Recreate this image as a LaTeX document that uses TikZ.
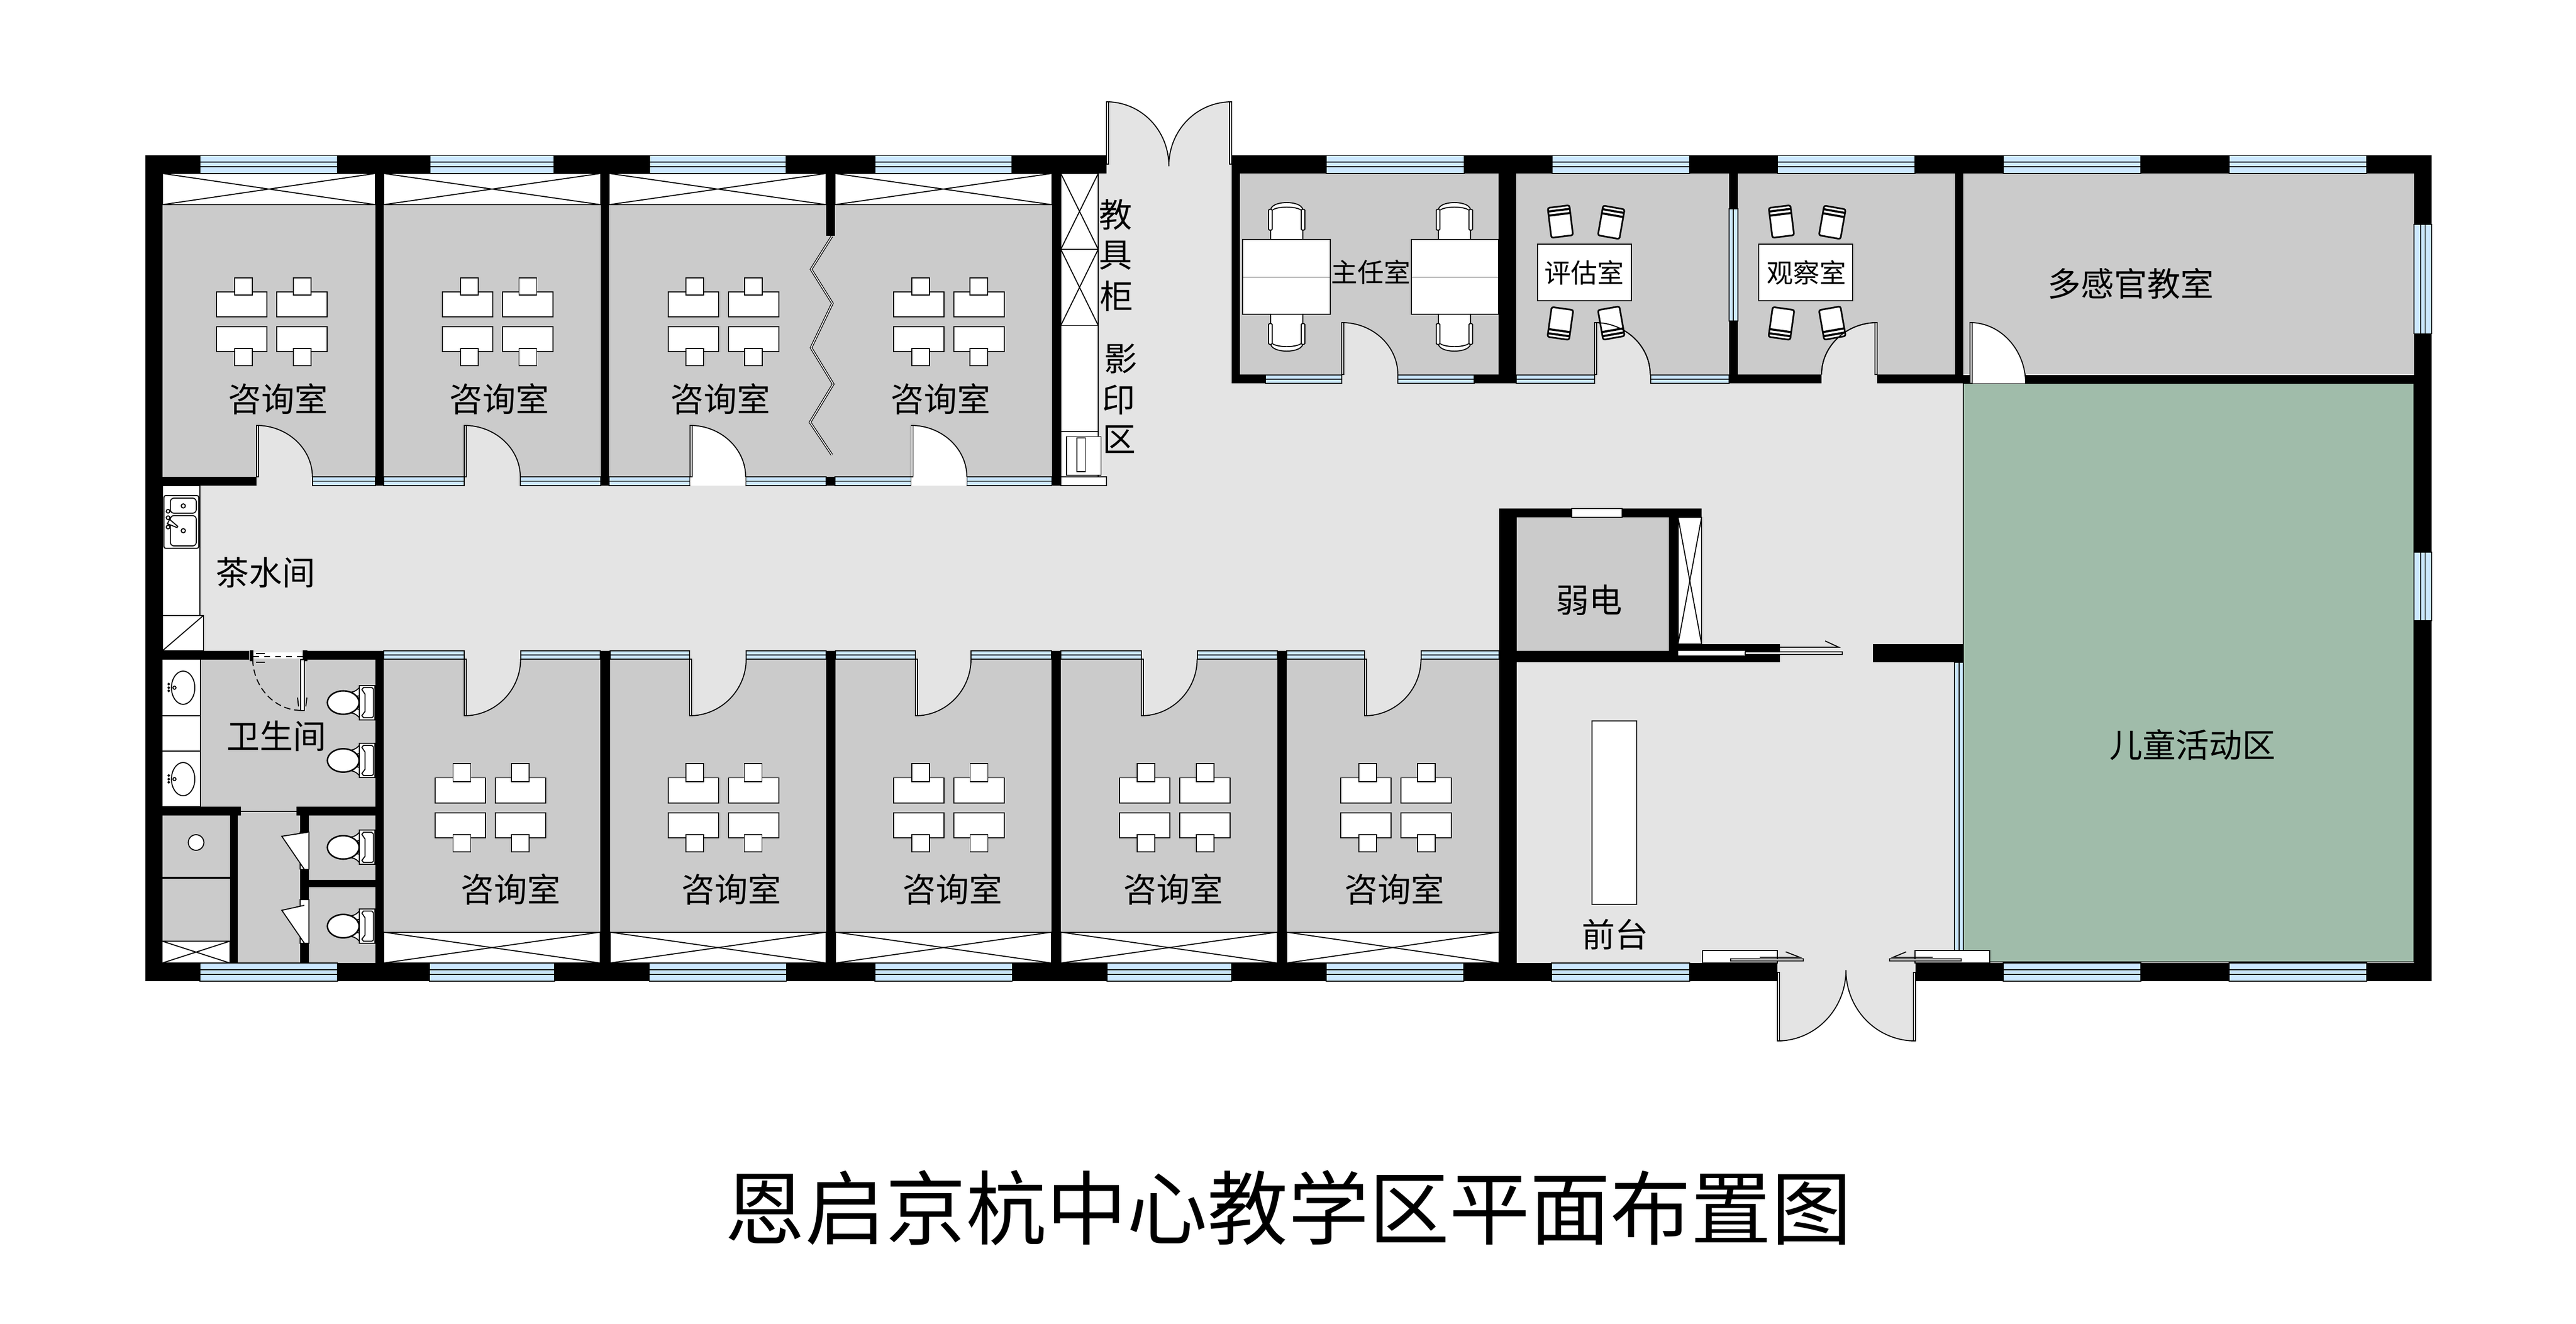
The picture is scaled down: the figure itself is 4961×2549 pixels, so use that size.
\documentclass[tikz,border=0pt]{standalone}
\usepackage{fontspec}
\setmainfont{Noto Sans CJK SC}
\definecolor{roomgray}{RGB}{203,203,203}
\definecolor{hallgray}{RGB}{228,228,228}
\definecolor{playgreen}{RGB}{160,188,170}
\definecolor{glassblue}{RGB}{204,232,255}
\tikzset{
  thinline/.style={draw=black,line width=0.55pt},
  wall/.style={fill=black},
  room/.style={fill=roomgray},
  glass/.style={fill=glassblue,thinline},
  whitebox/.style={fill=white,thinline},
  roomlabel/.style={font=\fontsize{18.2}{20}\selectfont,inner sep=0pt},
  smalllabel/.style={font=\fontsize{14.5}{17}\selectfont,inner sep=0pt},
  titlelabel/.style={font=\fontsize{44.1}{50}\selectfont,inner sep=0pt},
  armchair/.pic={
    \path[whitebox] (-31,0) -- (-31,-58) .. controls (-28,-68) and (-12,-71) .. (0,-71) .. controls (12,-71) and (28,-68) .. (31,-58) -- (31,0) -- cycle;
    \path[thinline] (-27,-57) .. controls (-16,-64) and (16,-64) .. (27,-57);
    \path[whitebox,rounded corners=0.5pt] (-35,-58) rectangle (-28,-18);
    \path[whitebox,rounded corners=0.5pt] (28,-58) rectangle (35,-18);
  },
  sidechair/.pic={
    \path[whitebox,line width=0.9pt,rounded corners=1pt] (-21,-29) -- (21,-29) -- (21,29) -- (-21,29) -- cycle;
    \path[wall] (-21,-24) rectangle (21,-20);
    \path[wall] (-21,-16) rectangle (21,-12);
  },
  toilet/.pic={
    \path[whitebox] (-46,-20) .. controls (-37,-21) and (-33,-26) .. (-30,-29) -- (-30,29) .. controls (-33,26) and (-37,21) .. (-46,20) -- cycle;
    \path[whitebox] (-30,-33) rectangle (0,33);
    \path[thinline] (-22,-29) -- (-6,-29) -- (-3,-26) -- (-3,27) -- (-6,29) -- (-22,29) -- (-25,25) -- (-19,17) -- (-19,-16) -- (-25,-25) -- cycle;
    \path[whitebox,line width=0.8pt] (-61,0) ellipse (30.5 and 22.5);
    \path[whitebox] (-32,-11) circle (2);
    \path[whitebox] (-32,11) circle (2);
  }
}
\newcommand{\winband}[4]{
  \path[glass] (#1,#3) rectangle (#2,#4);
  \path[thinline] (#1,{#3+0.37*(#4-#3)}) -- (#2,{#3+0.37*(#4-#3)});
  \path[thinline] (#1,{#3+0.63*(#4-#3)}) -- (#2,{#3+0.63*(#4-#3)});
}
\newcommand{\winstrip}[4]{
  \path[glass] (#1,#3) rectangle (#2,#4);
  \path[thinline] (#1,{(#3+#4)/2}) -- (#2,{(#3+#4)/2});
}
\newcommand{\winside}[4]{
  \path[glass] (#1,#3) rectangle (#2,#4);
  \path[thinline] ({#1+0.37*(#2-#1)},#3) -- ({#1+0.37*(#2-#1)},#4);
  \path[thinline] ({#1+0.63*(#2-#1)},#3) -- ({#1+0.63*(#2-#1)},#4);
}
\newcommand{\winpost}[4]{
  \path[glass] (#1,#3) rectangle (#2,#4);
  \path[thinline] ({(#1+#2)/2},#3) -- ({(#1+#2)/2},#4);
}
\newcommand{\closet}[4]{
  \path[whitebox] (#1,#3) rectangle (#2,#4);
  \path[thinline] (#1,#3) -- (#2,#4);
  \path[thinline] (#1,#4) -- (#2,#3);
}
\newcommand{\swing}[5]{
  \path[fill=#1] (#2,#3) .. controls ({#2+0.55*(#4-#2)},#3) and (#4,{#5-0.55*(#5-#3)}) .. (#4,#5) -- (#2,#5) -- cycle;
  \path[thinline] (#2,#3) .. controls ({#2+0.55*(#4-#2)},#3) and (#4,{#5-0.55*(#5-#3)}) .. (#4,#5);
  \path[whitebox] (#2,#3) rectangle ({#2+4*sign(#4-#2)},#5);
}
\begin{document}
\begin{tikzpicture}[x=0.01cm,y=-0.01cm]
\useasboundingbox (0,0) rectangle (4961,2549);

\path[fill=hallgray] (313,738) rectangle (3781,1854);
\path[fill=hallgray] (2115,300) rectangle (2372,738);
\path[fill=hallgray] (2372,700) rectangle (3781,738);

\path[room] (313,394) rectangle (723,918);
\path[room] (739,394) rectangle (1156.6,918);
\path[room] (1173.4,394) rectangle (2025.5,918);
\path[room] (2388,334) rectangle (2886.4,721);
\path[room] (2920,334) rectangle (3330,721);
\path[room] (3346.6,334) rectangle (3764.6,721);
\path[room] (3781,334) rectangle (4649,721);
\path[fill=playgreen,thinline] (3781,738) rectangle (4649,1852);
\foreach \xa/\xb in {739/1156,1174.6/1591,1609/2025,2043/2460,2477.7/2886.5}{
  \path[room] (\xa,1269) rectangle (\xb,1794.6);
}
\path[room] (386,1269) rectangle (722.6,1553);
\path[room] (458,1553) rectangle (578,1854);
\path[room] (312.5,1570) rectangle (442.6,1812);
\path[room] (595,1570) rectangle (722.6,1854);
\path[room] (2921,996) rectangle (3214,1253);

\path[wall] (279.5,299.5) rectangle (2131,334);
\path[wall] (2372,299.5) rectangle (4683,334);
\path[wall] (279.5,299.5) rectangle (313,1889);
\path[wall] (4649,299.5) rectangle (4683,1889);
\path[wall] (279.5,1854) rectangle (3423,1889);
\path[wall] (3688.5,1854) rectangle (4683,1889);
\path[wall] (723,334) rectangle (739,935);
\path[wall] (1156.6,334) rectangle (1173.4,935);
\path[wall] (1591,334) rectangle (1608,454);
\path[wall] (1591,918) rectangle (1608,935);
\path[wall] (2025.5,334) rectangle (2043,935);
\path[wall] (313,918) rectangle (494,935);
\path[wall] (2372,334) rectangle (2388,738);
\path[wall] (2372,721) rectangle (2437,738);
\path[wall] (2838.6,721) rectangle (2886.4,738);
\path[wall] (2886.4,334) rectangle (2920,738);
\path[wall] (3330,334) rectangle (3346.6,738);
\path[wall] (3346.6,721) rectangle (3508,738);
\path[wall] (3615.4,721) rectangle (3764.6,738);
\path[wall] (3764.6,334) rectangle (3781,738);
\path[wall] (3781,721.6) rectangle (3794,738);
\path[wall] (3901,721.6) rectangle (4649,738);
\path[wall] (313,1253) rectangle (480,1270);
\path[wall] (592,1253) rectangle (722.6,1270);
\path[wall] (722.6,1253) rectangle (739,1854);
\path[wall] (1156,1253) rectangle (1174.6,1854);
\path[wall] (1591,1253) rectangle (1609,1854);
\path[wall] (2025,1253) rectangle (2043,1854);
\path[wall] (2460,1253) rectangle (2477.7,1854);
\path[wall] (2886.5,979) rectangle (2921,1854);
\path[wall] (2921,979) rectangle (3277,996);
\path[wall] (3214,996) rectangle (3231.6,1253);
\path[wall] (2921,1253) rectangle (3428,1275);
\path[wall] (3231.6,1240) rectangle (3428,1253);
\path[wall] (3607,1240) rectangle (3781,1275);
\path[wall] (312.5,1553) rectangle (463.6,1570);
\path[wall] (571,1553) rectangle (722.6,1570);
\path[wall] (442.6,1570) rectangle (458,1854);
\path[wall] (578,1570) rectangle (595,1854);
\path[wall] (595,1693.6) rectangle (722.6,1708.4);
\path[thinline] (463.6,1562) -- (571,1562);

\foreach \xa/\xb in {385.5/650,828/1067,1250.8/1514,1685/1949,2553.5/2819.5,2989/3254,3423/3688,3858/4122.6,4293/4558}{
  \winband{\xa}{\xb}{299.5}{334}
}
\foreach \xa/\xb in {385/650,827/1067.6,1250.5/1514.5,1685/1949.5,2132/2372,2554/2819,2988/3254,3858/4122.6,4293/4558}{
  \winband{\xa}{\xb}{1854}{1889}
}
\foreach \xa/\xb in {601.6/723,739/894,1002/1156.6,1173.4/1329,1436/1591,1608/1754.5,1862/2025.5,2437/2584,2692/2838.6,2920/3071,3179/3330}{
  \pgfmathsetmacro{\ya}{\xa<2100 ? 918 : 722}
  \pgfmathsetmacro{\yb}{\xa<2100 ? 935 : 738}
  \winstrip{\xa}{\xb}{\ya}{\yb}
}
\foreach \xa/\xb in {739/894,1002.6/1156,1174.6/1328,1437/1591,1609/1763,1870/2025,2043/2197.7,2305.5/2460,2477.7/2628,2736.6/2886.5}{
  \winstrip{\xa}{\xb}{1253}{1269}
}
\winside{4649}{4683}{432}{642.5}
\winside{4649}{4683}{1063}{1195}
\winpost{3330}{3346.6}{401.6}{618.4}
\winpost{3764}{3781}{1275}{1831}

\closet{313}{723}{334}{394}
\closet{739}{1156.6}{334}{394}
\closet{1173.4}{1591}{334}{394}
\closet{1608}{2025.5}{334}{394}
\closet{2043}{2115}{334}{480}
\closet{2043}{2115}{480}{626.5}
\closet{739}{1156}{1794.6}{1854}
\closet{1174.6}{1591}{1794.6}{1854}
\closet{1609}{2025}{1794.6}{1854}
\closet{2043}{2460}{1794.6}{1854}
\closet{2477.7}{2886.5}{1794.6}{1854}
\closet{312.5}{442.6}{1812}{1854}
\closet{3231.6}{3277}{996}{1240}
\path[whitebox] (2043,626.5) rectangle (2115,918);
\path[whitebox] (2043,918) rectangle (2131,935);
\path[whitebox] (2043,831) rectangle (2115,918);
\path[whitebox] (2053.6,840.5) rectangle (2120.5,914.6);
\path[whitebox] (2074,843) rectangle (2090.5,908);
\path[whitebox] (313,935) rectangle (385,1185);
\path[whitebox] (313,1185) rectangle (391.7,1252.7);
\path[thinline] (313,1252.7) -- (391.7,1185);
\path[whitebox,rounded corners=1pt] (315.7,954) rectangle (382.7,1055.7);
\path[whitebox,rounded corners=2pt] (328,959) rectangle (378,988);
\path[whitebox,rounded corners=2pt] (328,992.7) rectangle (378,1051);
\path[thinline] (353,974) circle (4);
\path[thinline] (353,1021.7) circle (4);
\foreach \ty in {984.3,996.7,1014.7}{
  \path[whitebox] (323.7,\ty) circle (3.5);
}
\path[whitebox] (326.7,1000) -- (342.3,1013.3) -- (341,1015.7) -- (322.3,1008.3) -- cycle;
\path[whitebox] (312.5,1269) rectangle (386,1378);
\path[whitebox] (312.5,1378) rectangle (386,1446);
\path[whitebox] (312.5,1446) rectangle (386,1553);
\foreach \sy in {1324,1500}{
  \path[whitebox] (352.7,\sy) ellipse (22.5 and 32);
  \path[whitebox] (336,\sy) circle (3);
  \foreach \dy in {-7,0,6}{
    \path[whitebox] (325,\sy+\dy) circle (1.6);
  }
}
\path[thinline] (312.5,1689) rectangle (442.6,1691);
\path[thinline] (312.5,1812) -- (442.6,1812);
\path[whitebox] (377.6,1622) ellipse (15 and 15);
\path[whitebox] (578.4,1602) rectangle (595,1673.5);
\path[whitebox] (578.4,1732) rectangle (595,1815.6);
\path[whitebox] (586,1673.5) -- (542.7,1610) -- (594.4,1602);
\path[whitebox] (586,1815.6) -- (542.7,1752.5) -- (586,1743);
\path[whitebox] (3027,979) rectangle (3124,996);

\swing{hallgray}{494}{819}{601.6}{918}
\swing{hallgray}{894}{819}{1002}{918}
\path[fill=white] (1329,918) rectangle (1436,935);
\path[fill=white] (1754.5,918) rectangle (1862,935);
\swing{white}{1329}{819}{1436}{918}
\swing{white}{1754.5}{819}{1862}{918}
\swing{hallgray}{2584}{621}{2692}{721}
\swing{hallgray}{3071}{621}{3178}{721}
\swing{hallgray}{3615.4}{621}{3508}{721}
\swing{white}{3794}{621}{3901}{738}
\foreach \hx/\ex in {894/1002.6,1328/1437,1763/1870,2197.7/2305.5,2628/2736.6}{
  \swing{hallgray}{\hx}{1378}{\ex}{1269}
}

\path[fill=hallgray] (2131,196) .. controls (2197,196) and (2251,250) .. (2251,320) .. controls (2251,250) and (2305,196) .. (2372,196) -- (2372,300) -- (2131,300) -- cycle;
\path[thinline] (2131,196) .. controls (2197,196) and (2251,250) .. (2251,320) .. controls (2251,250) and (2305,196) .. (2372,196);
\path[whitebox] (2131,196) rectangle (2135,316);
\path[whitebox] (2368,196) rectangle (2372,316);
\path[fill=hallgray] (3423,2004) .. controls (3496,2004) and (3555,1943) .. (3555,1867.6) .. controls (3555,1943) and (3614,2004) .. (3688.5,2004) -- (3688.5,1854) -- (3423,1854) -- cycle;
\path[thinline] (3423,2004) .. controls (3496,2004) and (3555,1943) .. (3555,1867.6) .. controls (3555,1943) and (3614,2004) .. (3688.5,2004);
\path[whitebox] (3423,1872) rectangle (3427,2004);
\path[whitebox] (3684.7,1872) rectangle (3688.5,2004);

\path[whitebox] (3279,1830.4) rectangle (3423,1854);
\path[whitebox] (3688,1830.4) rectangle (3831.6,1854);
\path[whitebox] (3333.4,1846) rectangle (3472.7,1850);
\path[whitebox] (3638.7,1846) rectangle (3777,1850);
\path[thinline] (3389,1843) -- (3466,1843) -- (3439,1832.5);
\path[thinline] (3722,1843) -- (3645.6,1843) -- (3671,1832.5);
\path[fill=white] (3231.6,1253) rectangle (3361,1262);
\path[whitebox] (3361,1255) rectangle (3547.7,1260);
\path[thinline] (3427.5,1246) -- (3541,1246) -- (3515,1234);

\path[draw=black,double=white,double distance=0.5pt,line width=0.4pt] (1602,455) -- (1562,518.5) -- (1603,584) -- (1562,669.5) -- (1604.6,739.5) -- (1560,813) -- (1602,875.6);

\path[fill=white] (488,1256) rectangle (583,1267);
\path[thinline,dashed] (488,1264) -- (583,1264);
\path[wall] (481,1252) rectangle (488,1273);
\path[wall] (583,1252) rectangle (592,1273);
\path[wall] (493,1257) rectangle (510,1259);
\path[wall] (493,1274) rectangle (510,1276);
\path[whitebox] (579.3,1270) rectangle (585.7,1368);
\path[thinline] (573,1343) -- (575,1360);
\path[thinline] (591,1343) -- (589,1360);
\path[thinline,dash pattern=on 3.5pt off 2pt] (486.7,1270) .. controls (488,1320) and (525,1366) .. (578,1367.7);

\foreach \ax/\bx/\ca/\cb in {417.4/533/452/565,852/968/887/999.5,1287/1403/1321/1434,1721/1837/1756/1868}{
  \path[whitebox] (\ax,561.6) rectangle (\ax+97,610);
  \path[whitebox] (\bx,561.6) rectangle (\bx+97,610);
  \path[whitebox] (\ax,629) rectangle (\ax+97,677);
  \path[whitebox] (\bx,629) rectangle (\bx+97,677);
  \path[whitebox] (\ca,534.6) rectangle (\ca+34,568);
  \path[whitebox] (\cb,534.6) rectangle (\cb+34,568);
  \path[whitebox] (\ca,670.6) rectangle (\ca+34,704);
  \path[whitebox] (\cb,670.6) rectangle (\cb+34,704);
}
\foreach \ax/\bx/\ca/\cb in {838/954/872.5/985,1287/1403/1320.7/1433.5,1721/1837/1755.6/1868.5,2156/2271.7/2190/2303.6,2582/2698/2616.7/2729.6}{
  \path[whitebox] (\ax,1497.5) rectangle (\ax+97,1546);
  \path[whitebox] (\bx,1497.5) rectangle (\bx+97,1546);
  \path[whitebox] (\ax,1565) rectangle (\ax+97,1613);
  \path[whitebox] (\bx,1565) rectangle (\bx+97,1613);
  \path[whitebox] (\ca,1470) rectangle (\ca+34,1504.7);
  \path[whitebox] (\cb,1470) rectangle (\cb+34,1504.7);
  \path[whitebox] (\ca,1607) rectangle (\ca+34,1640);
  \path[whitebox] (\cb,1607) rectangle (\cb+34,1640);
}

\path[whitebox] (2392.8,461) rectangle (2562,533.5);
\path[whitebox] (2392.8,533.5) rectangle (2562,605);
\path[whitebox] (2718,461) rectangle (2886,533.5);
\path[whitebox] (2718,533.5) rectangle (2886,605);
\pic at (2478,461) {armchair};
\pic at (2801,461) {armchair};
\pic[yscale=-1] at (2478,605) {armchair};
\pic[yscale=-1] at (2801,605) {armchair};

\path[whitebox] (2961,470) rectangle (3142,579);
\path[whitebox] (3386.8,470) rectangle (3567.6,579);
\foreach \shift in {0,425.7}{
  \pic[rotate=7] at (3005+\shift,426.5) {sidechair};
  \pic[rotate=-10] at (3103+\shift,428) {sidechair};
  \pic[rotate=172] at (3005+\shift,622.7) {sidechair};
  \pic[rotate=190] at (3103+\shift,622) {sidechair};
}
\path[thinline] (3071,621) .. controls (3130,621) and (3178,666) .. (3178,721);
\path[thinline] (3615.4,621) .. controls (3556,621) and (3508,666) .. (3508,721);

\foreach \ty in {1352.6,1464,1631.4,1783}{
  \pic at (722,\ty) {toilet};
}

\path[whitebox] (3065.5,1388.4) rectangle (3152,1740.6);

\node[roomlabel] (room1) at (535,768) {咨询室};
\node[roomlabel] (room2) at (961,768) {咨询室};
\node[roomlabel] (room3) at (1387,768) {咨询室};
\node[roomlabel] (room4) at (1811,768) {咨询室};
\node[roomlabel] (room5) at (983.4,1712) {咨询室};
\node[roomlabel] (room6) at (1408,1712) {咨询室};
\node[roomlabel] (room7) at (1834,1712) {咨询室};
\node[roomlabel] (room8) at (2259.6,1712) {咨询室};
\node[roomlabel] (room9) at (2685,1712) {咨询室};
\node[roomlabel] (cab1) at (2148.6,413) {教};
\node[roomlabel] (cab2) at (2148.6,491.6) {具};
\node[roomlabel] (cab3) at (2150.5,570) {柜};
\node[roomlabel] (copy1) at (2158,691) {影};
\node[roomlabel] (copy2) at (2154,770) {印};
\node[roomlabel] (copy3) at (2155,846) {区};
\node[smalllabel] (head) at (2639.6,524.3) {主任室};
\node[smalllabel] (assess) at (3051,525) {评估室};
\node[smalllabel] (observe) at (3478.6,525) {观察室};
\node[roomlabel] (sensory) at (4103,546) {多感官教室};
\node[roomlabel] (play) at (4222,1434) {儿童活动区};
\node[roomlabel] (tea) at (511,1102) {茶水间};
\node[roomlabel] (wash) at (532,1417.6) {卫生间};
\node[roomlabel] (power) at (3060,1155.5) {弱电};
\node[roomlabel] (desk) at (3110,1799) {前台};
\node[titlelabel] (title) at (2481,2325) {恩启京杭中心教学区平面布置图};
\end{tikzpicture}
\end{document}
